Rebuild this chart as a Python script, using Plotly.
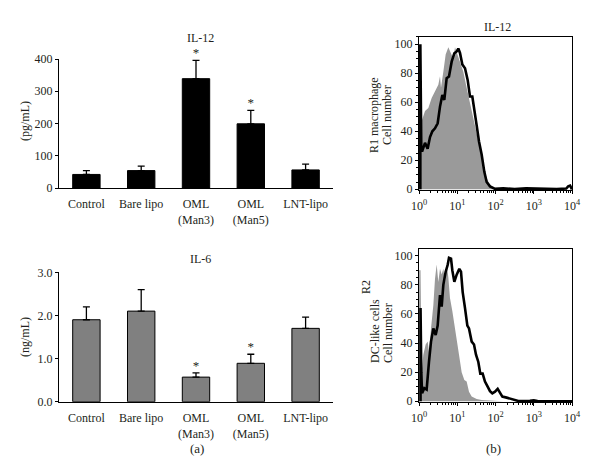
import numpy as np
import plotly.graph_objects as go

# ---------------- data ----------------
categories = ["Control", "Bare lipo", "OML<br>(Man3)", "OML<br>(Man5)", "LNT-lipo"]
il12_values = [42, 54, 339, 199, 56]
il12_errors = [12, 14, 57, 42, 18]
il12_stars = ["", "", "*", "*", ""]
il6_values = [1.9, 2.1, 0.57, 0.89, 1.7]
il6_errors = [0.3, 0.5, 0.1, 0.21, 0.26]
il6_stars = ["", "", "*", "*", ""]

# flow histograms: log10(fluorescence) positions and cell numbers
r1_stain_log = [0.035, 0.035, 0.06, 0.08, 0.157, 0.226, 0.288, 0.349, 0.418, 0.488, 0.549, 0.610,
                0.662, 0.723, 0.784, 0.854, 0.924, 0.985, 1.028, 1.072, 1.133, 1.203, 1.272,
                1.333, 1.394, 1.447, 1.508, 1.569, 1.638, 1.708, 1.769, 1.856, 1.987, 2.2, 2.5,
                2.8, 3.2, 3.6, 3.85, 3.9, 3.95, 3.98, 4.0]
r1_stain_val = [0, 100, 28, 26, 32, 28, 36, 40, 42, 45.5, 57, 65, 61.6, 76.5, 77.7, 88, 93.8,
                95, 97, 94, 86, 83.4, 75.4, 64, 64, 56, 44, 33, 24, 12, 5, 2, 0.3, 0.6, 0.2,
                0.6, 0.2, 0.2, 0.5, 2, 2.5, 1, 0]
r1_iso_log = [0.0, 0.005, 0.035, 0.07, 0.157, 0.244, 0.331, 0.418, 0.505, 0.549, 0.575, 0.636,
              0.697, 0.767, 0.837, 0.897, 0.941, 1.011, 1.072, 1.159, 1.246, 1.333, 1.420,
              1.508, 1.595, 1.682, 1.769, 1.856, 1.987, 2.161, 2.4, 4.0]
r1_iso_val = [0, 60, 51, 47, 54, 56, 63, 67, 72, 78, 70, 81, 93, 98, 93, 90, 98, 93, 88, 81,
              70, 60, 49, 40, 28, 17, 7.6, 3, 1, 0.5, 0.2, 0]

r2_stain_log = [0.04, 0.04, 0.06, 0.08, 0.139, 0.200, 0.261, 0.314, 0.375, 0.436, 0.488, 0.549,
                0.593, 0.636, 0.697, 0.749, 0.784, 0.837, 0.871, 0.924, 0.985, 1.054, 1.098,
                1.142, 1.203, 1.264, 1.307, 1.377, 1.438, 1.490, 1.551, 1.603, 1.664, 1.725,
                1.795, 1.856, 1.917, 1.987, 2.057, 2.118, 2.179, 2.292, 2.423, 2.510, 2.597,
                2.9, 3.0, 3.1, 4.0]
r2_stain_val = [0, 64, 20, 5.5, 9, 8, 27, 41, 50, 45.5, 52, 73, 65, 80, 89, 93.6, 98.6, 98, 90,
                82, 87, 91, 89, 75, 64, 52, 50, 41, 39, 32, 27, 19, 19, 13.5, 10, 7, 5.5, 6.6,
                8.5, 5.5, 3.2, 2.5, 1.6, 0.9, 0.2, 0.3, 0.6, 0.2, 0]
r2_iso_log = [0.0, 0.005, 0.04, 0.07, 0.113, 0.174, 0.227, 0.261, 0.314, 0.375, 0.418, 0.462,
              0.505, 0.549, 0.593, 0.636, 0.680, 0.723, 0.767, 0.810, 0.871, 0.924, 0.985,
              1.046, 1.115, 1.185, 1.246, 1.307, 1.377, 1.508, 1.638, 1.900, 2.2, 4.0]
r2_iso_val = [0, 90, 90, 20, 32, 39, 41, 34, 50, 66, 84, 94, 82, 91, 87, 91, 82, 95, 85, 71,
              62, 52, 41, 32, 20, 14.6, 13.5, 6.6, 3.2, 1.6, 0.9, 0.3, 0, 0]

log_ticks = [1, 10, 100, 1000, 10000]
log_ticktext = ["10<sup>0</sup>", "10<sup>1</sup>", "10<sup>2</sup>", "10<sup>3</sup>", "10<sup>4</sup>"]

# ---------------- figure ----------------
W, H = 600, 476
FONT = "Liberation Serif"
TXT = "#231f20"
FS = 12


def px_x(a, b):
    return [a / W, b / W]


def px_y(top, bottom):
    return [1 - bottom / H, 1 - top / H]


fig = go.Figure()

# IL-12 bars
fig.add_trace(go.Bar(x=categories, y=il12_values, width=0.5,
                     marker=dict(color="black", line=dict(color="black", width=1)),
                     error_y=dict(type="data", array=il12_errors, arrayminus=[0] * 5,
                                  symmetric=False, color="black", thickness=1.3, width=3.5),
                     xaxis="x", yaxis="y", showlegend=False))
fig.add_trace(go.Scatter(x=categories, y=[v + e for v, e in zip(il12_values, il12_errors)],
                         mode="text", text=il12_stars, textposition="top center", cliponaxis=False,
                         textfont=dict(family=FONT, size=13, color=TXT),
                         xaxis="x", yaxis="y", showlegend=False))

# IL-6 bars
fig.add_trace(go.Bar(x=categories, y=il6_values, width=0.5,
                     marker=dict(color="#808080", line=dict(color="black", width=1)),
                     error_y=dict(type="data", array=il6_errors, arrayminus=[0] * 5,
                                  symmetric=False, color="black", thickness=1.3, width=3.5),
                     xaxis="x2", yaxis="y2", showlegend=False))
fig.add_trace(go.Scatter(x=categories, y=[v + e for v, e in zip(il6_values, il6_errors)],
                         mode="text", text=il6_stars, textposition="top center", cliponaxis=False,
                         textfont=dict(family=FONT, size=13, color=TXT),
                         xaxis="x2", yaxis="y2", showlegend=False))

# R1 histogram
fig.add_trace(go.Scatter(x=10 ** np.array(r1_iso_log), y=r1_iso_val, mode="lines",
                         fill="tozeroy", fillcolor="#9a9a9a", line=dict(width=0, color="#9a9a9a"),
                         xaxis="x3", yaxis="y3", showlegend=False))
fig.add_trace(go.Scatter(x=10 ** np.array(r1_stain_log), y=r1_stain_val, mode="lines",
                         line=dict(width=2.6, color="black"),
                         xaxis="x3", yaxis="y3", showlegend=False))

# R2 histogram
fig.add_trace(go.Scatter(x=10 ** np.array(r2_iso_log), y=r2_iso_val, mode="lines",
                         fill="tozeroy", fillcolor="#9a9a9a", line=dict(width=0, color="#9a9a9a"),
                         xaxis="x4", yaxis="y4", showlegend=False))
fig.add_trace(go.Scatter(x=10 ** np.array(r2_stain_log), y=r2_stain_val, mode="lines",
                         line=dict(width=2.6, color="black"),
                         xaxis="x4", yaxis="y4", showlegend=False))

tickfont = dict(family=FONT, size=FS, color=TXT)

bar_x = dict(type="category", range=[-0.5, 4.5], showline=True, linecolor="black", linewidth=1,
             ticks="", showgrid=False, zeroline=False, tickfont=tickfont, automargin=False,
             ticklabelstandoff=5)
hist_x = dict(type="log", range=[0, 4], showline=True, mirror=True, linecolor="black", linewidth=1,
              tickvals=log_ticks, ticktext=log_ticktext, ticks="outside", ticklen=3,
              tickcolor="black", showgrid=False, zeroline=False, tickfont=tickfont,
              automargin=False, ticklabelstandoff=2,
              minor=dict(ticks="outside", ticklen=2, tickcolor="black",
                         tickvals=[m * 10 ** d for d in range(4) for m in range(2, 10)]))
hist_y = dict(range=[-0.5, 105.2], showline=True, mirror=True, linecolor="black", linewidth=1,
              tickvals=[0, 20, 40, 60, 80, 100], ticks="outside", ticklen=3, tickcolor="black",
              showgrid=False, zeroline=False, tickfont=tickfont, automargin=False,
              minor=dict(ticks="outside", ticklen=2, tickcolor="black", dtick=5))

fig.update_layout(
    width=W, height=H, margin=dict(l=0, r=0, t=0, b=0, pad=0, autoexpand=False),
    autosize=False,
    paper_bgcolor="white", plot_bgcolor="white",
    font=dict(family=FONT, size=FS, color=TXT),
    xaxis=dict(bar_x, domain=px_x(59, 333), anchor="y"),
    yaxis=dict(domain=px_y(59, 188), range=[0, 400], tickvals=[0, 100, 200, 300, 400],
               showline=True, linecolor="black", linewidth=1, ticks="outside", ticklen=3,
               tickcolor="black", showgrid=False, zeroline=False, tickfont=tickfont,
               automargin=False, anchor="x"),
    xaxis2=dict(bar_x, domain=px_x(59, 333), anchor="y2"),
    yaxis2=dict(domain=px_y(272.3, 401.7), range=[0, 3], tickvals=[0, 1, 2, 3],
                tickformat=".1f", showline=True, linecolor="black", linewidth=1,
                ticks="outside", ticklen=3, tickcolor="black", showgrid=False,
                zeroline=False, tickfont=tickfont, automargin=False, anchor="x2"),
    xaxis3=dict(hist_x, domain=px_x(419, 572), anchor="y3"),
    yaxis3=dict(hist_y, domain=px_y(36.7, 190), anchor="x3"),
    xaxis4=dict(hist_x, domain=px_x(419, 572), anchor="y4"),
    yaxis4=dict(hist_y, domain=px_y(249, 402), range=[-0.5, 104.6], anchor="x4"),
)


def note(text, x, y, angle=0, size=FS):
    fig.add_annotation(text=text, x=x / W, y=1 - y / H, xref="paper", yref="paper",
                       showarrow=False, textangle=angle, xanchor="center", yanchor="middle",
                       font=dict(family=FONT, size=size, color=TXT))


note("IL-12", 200, 38)
note("IL-6", 200, 259)
note("(pg/mL)", 25, 121, -90)
note("(ng/mL)", 25, 337, -90)
note("IL-12", 497, 27)
note("R1 macrophage", 374, 115, -90)
note("Cell number", 387, 115, -90)
note("R2", 366, 287, -90)
note("DC-like cells", 375, 331, -90)
note("Cell number", 388, 333, -90)
note("(a)", 197, 448, size=13)
note("(b)", 493, 448, size=13)

fig.write_html("out.html", config={"displayModeBar": False, "responsive": False},
               post_script="document.body.style.margin='0';document.body.style.overflow='hidden';")
